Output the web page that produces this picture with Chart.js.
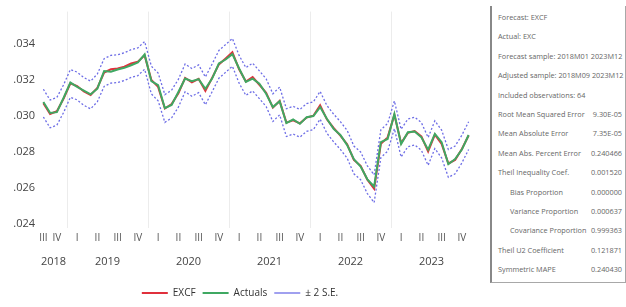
<!DOCTYPE html>
<html>
<head>
<meta charset="utf-8">
<script src="https://cdn.jsdelivr.net/npm/chart.js@4"></script>
<style>
  body { margin: 0; background: #fff; font-family: "Open Sans", sans-serif; }
  #wrap { position: absolute; left: 0; top: 0; width: 488px; height: 307px; }
  #stats { position: absolute; left: 490px; top: 6px; width: 133px; height: 276px;
           border: 1px solid #a8a8a8; border-left: 2px solid #888; border-top: none;
           font-size: 7.3px; color: #666; }
  #stats div { position: absolute; left: 6px; right: 3px; height: 10px; line-height: 10px; white-space: nowrap; }
  #stats div.in { left: 18px; }
  #stats span { position: absolute; right: 0; }
</style>
</head>
<body>
<div id="wrap"><canvas id="fc"></canvas></div>
<div id="stats"></div>
<script>
// months 2018M09 .. 2023M12 (64 obs), index 0 = 2018M09
const firstYear = 2018;
const firstMonth = 8; // zero based, September
const years = [2018, 2019, 2020, 2021, 2022, 2023];
const quarterLabels = ['I', 'II', 'III', 'IV'];
const yTicks = [0.024, 0.026, 0.028, 0.030, 0.032, 0.034];

const actuals = [
  0.03076, 0.03015, 0.03020, 0.03100, 0.03184, 0.03160, 0.03140, 0.03119, 0.03150, 0.03248,
  0.03244, 0.03257, 0.03266, 0.03280, 0.03296, 0.03340, 0.03192, 0.03170, 0.03042, 0.03060,
  0.03132, 0.03206, 0.03192, 0.03203, 0.03150, 0.03206, 0.03290, 0.03312, 0.03342, 0.03262,
  0.03188, 0.03206, 0.03178, 0.03122, 0.03048, 0.03080, 0.02959, 0.02979, 0.02955, 0.02992,
  0.02998, 0.03048, 0.02983, 0.02927, 0.02893, 0.02837, 0.02759, 0.02718, 0.02647, 0.02607,
  0.02853, 0.02871, 0.03010, 0.02843, 0.02908, 0.02912, 0.02880, 0.02812, 0.02899, 0.02853,
  0.02731, 0.02759, 0.02812, 0.02893
];
const excf = [
  0.03070, 0.03010, 0.03025, 0.03095, 0.03180, 0.03165, 0.03135, 0.03115, 0.03155, 0.03240,
  0.03258, 0.03262, 0.03272, 0.03290, 0.03300, 0.03335, 0.03198, 0.03160, 0.03040, 0.03065,
  0.03125, 0.03210, 0.03185, 0.03205, 0.03138, 0.03210, 0.03285, 0.03318, 0.03352, 0.03258,
  0.03190, 0.03215, 0.03172, 0.03128, 0.03045, 0.03082, 0.02962, 0.02975, 0.02958, 0.02990,
  0.03000, 0.03058, 0.02980, 0.02932, 0.02890, 0.02842, 0.02755, 0.02722, 0.02645, 0.02595,
  0.02845, 0.02880, 0.03005, 0.02848, 0.02905, 0.02915, 0.02885, 0.02802, 0.02895, 0.02843,
  0.02735, 0.02755, 0.02815, 0.02890
];
const upper = [
  0.03147, 0.03087, 0.03102, 0.03172, 0.03257, 0.03242, 0.03212, 0.03192, 0.03232, 0.03317,
  0.03335, 0.03339, 0.03349, 0.03367, 0.03377, 0.03412, 0.03275, 0.03237, 0.03117, 0.03142,
  0.03202, 0.03287, 0.03262, 0.03282, 0.03215, 0.03287, 0.03362, 0.03395, 0.03429, 0.03335,
  0.03267, 0.03292, 0.03249, 0.03205, 0.03122, 0.03159, 0.03039, 0.03052, 0.03035, 0.03067,
  0.03077, 0.03135, 0.03057, 0.03009, 0.02967, 0.02919, 0.02832, 0.02799, 0.02722, 0.02672,
  0.02922, 0.02957, 0.03082, 0.02925, 0.02982, 0.02992, 0.02962, 0.02879, 0.02972, 0.02920,
  0.02812, 0.02832, 0.02892, 0.02967
];
const lower = [
  0.02993, 0.02933, 0.02948, 0.03018, 0.03103, 0.03088, 0.03058, 0.03038, 0.03078, 0.03163,
  0.03181, 0.03185, 0.03195, 0.03213, 0.03223, 0.03258, 0.03121, 0.03083, 0.02963, 0.02988,
  0.03048, 0.03133, 0.03108, 0.03128, 0.03061, 0.03133, 0.03208, 0.03241, 0.03275, 0.03181,
  0.03113, 0.03138, 0.03095, 0.03051, 0.02968, 0.03005, 0.02885, 0.02898, 0.02881, 0.02913,
  0.02923, 0.02981, 0.02903, 0.02855, 0.02813, 0.02765, 0.02678, 0.02645, 0.02568, 0.02518,
  0.02768, 0.02803, 0.02928, 0.02771, 0.02828, 0.02838, 0.02808, 0.02725, 0.02818, 0.02766,
  0.02658, 0.02678, 0.02738, 0.02813
];

const statLabels = [
  'Forecast: EXCF', 'Actual: EXC', 'Forecast sample: 2018M01 2023M12',
  'Adjusted sample: 2018M09 2023M12', 'Included observations: 64',
  'Root Mean Squared Error', 'Mean Absolute Error', 'Mean Abs. Percent Error',
  'Theil Inequality Coef.', 'Bias Proportion', 'Variance Proportion',
  'Covariance Proportion', 'Theil U2 Coefficient', 'Symmetric MAPE'
];
const statValues = ['', '', '', '', '', '9.30E-05', '7.35E-05', '0.240466',
  '0.001520', '0.000000', '0.000637', '0.999363', '0.121871', '0.240430'];

// stats box
const box = document.getElementById('stats');
statLabels.forEach((lab, i) => {
  const row = document.createElement('div');
  if (i >= 9 && i <= 11) row.className = 'in';
  row.style.top = (6 + i * 19.4) + 'px';
  row.textContent = lab;
  if (statValues[i]) {
    const v = document.createElement('span');
    v.textContent = statValues[i];
    row.appendChild(v);
  }
  box.appendChild(row);
});

const n = actuals.length;
const idx = actuals.map((v, i) => i);

// quarter ticks at middle month of each quarter, year labels at centre of each year
const qTicks = {};
const yrTicks = {};
const yrLines = [];
years.forEach(y => {
  quarterLabels.forEach((q, k) => {
    let pos = (y - firstYear) * 12 + k * 3 + 1 - firstMonth;
    if ((y - firstYear) * 12 + k * 3 + 2 - firstMonth < 0) return;
    pos = Math.max(0, Math.min(n - 1, pos));
    qTicks[pos] = q;
  });
  const s = Math.max(0, (y - firstYear) * 12 - firstMonth);
  const e = Math.min(n - 1, (y - firstYear) * 12 + 11 - firstMonth);
  yrTicks[(s + e) / 2] = String(y);
  if (s > 0) yrLines.push(s - 0.5);
});

const font = { family: '"Open Sans", sans-serif' };

new Chart(document.getElementById('fc'), {
  type: 'line',
  data: {
    labels: idx,
    datasets: [
      { label: 'EXCF', data: idx.map(i => ({ x: i, y: excf[i] })), borderColor: '#e0303c',
        borderWidth: 2, pointRadius: 0, order: 2 },
      { label: 'Actuals', data: idx.map(i => ({ x: i, y: actuals[i] })), borderColor: '#3fa862',
        borderWidth: 2, pointRadius: 0, order: 1 },
      { label: '\u00b1 2 S.E.', data: idx.map(i => ({ x: i, y: upper[i] })), borderColor: '#6d6de6',
        borderWidth: 1.3, borderDash: [2, 2], pointRadius: 0, order: 3 },
      { label: 'lower', data: idx.map(i => ({ x: i, y: lower[i] })), borderColor: '#6d6de6',
        borderWidth: 1.3, borderDash: [2, 2], pointRadius: 0, order: 3 }
    ]
  },
  options: {
    responsive: true,
    maintainAspectRatio: false,
    animation: false,
    layout: { padding: { top: 9, right: 16, left: 8, bottom: -1 } },
    plugins: {
      tooltip: { enabled: false },
      legend: {
        position: 'bottom',
        labels: {
          filter: item => item.text !== 'lower',
          sort: (a, b) => a.datasetIndex - b.datasetIndex,
          usePointStyle: true,
          pointStyle: 'line',
          pointStyleWidth: 26,
          color: '#333',
          padding: 7,
          font: { ...font, size: 10 }
        }
      }
    },
    scales: {
      x: {
        type: 'linear',
        min: -0.5, max: n - 0.5,
        position: 'bottom',
        grid: { display: false, drawTicks: false },
        border: { display: false },
        afterBuildTicks: s => { s.ticks = Object.keys(qTicks).map(v => ({ value: +v })); },
        ticks: {
          autoSkip: false, maxRotation: 0, padding: 4, color: '#555',
          font: { ...font, size: 10 },
          callback: v => qTicks[v] || ''
        }
      },
      x2: {
        type: 'linear',
        min: -0.5, max: n - 0.5,
        position: 'bottom',
        border: { display: false },
        grid: {
          drawTicks: false,
          color: c => (c.tick && yrLines.includes(c.tick.value)) ? '#ececec' : 'rgba(0,0,0,0)'
        },
        afterFit: s => { s.height += 6; },
        afterBuildTicks: s => {
          s.ticks = yrLines.concat(Object.keys(yrTicks).map(Number)).map(v => ({ value: v }));
        },
        ticks: {
          autoSkip: false, maxRotation: 0, padding: 7, color: '#444',
          font: { ...font, size: 11 },
          callback: v => yrTicks[v] || ''
        }
      },
      y: {
        min: 0.02378, max: 0.03578,
        grid: { display: false, drawTicks: false },
        border: { display: false },
        afterFit: s => { s.width = 32; },
        afterBuildTicks: s => { s.ticks = yTicks.map(v => ({ value: v })); },
        ticks: {
          color: '#444', padding: 5,
          font: { ...font, size: 11 },
          callback: v => v.toFixed(3).replace(/^0/, '')
        }
      }
    }
  }
});
</script>
</body>
</html>
